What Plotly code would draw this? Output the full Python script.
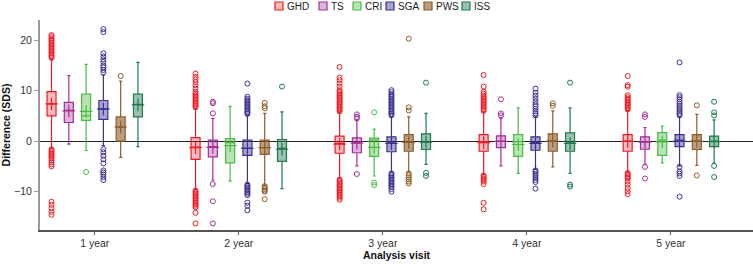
import plotly.graph_objects as go

visits = ["1 year", "2 year", "3 year", "4 year", "5 year"]
series = ["GHD", "TS", "CRI", "SGA", "PWS", "ISS"]

# per series (rows) x visit (columns)
q1 = [
    [5.0, -3.6, -2.4, -2.0, -2.0],
    [3.7, -3.1, -2.3, -1.3, -1.6],
    [4.1, -4.3, -3.0, -3.0, -2.8],
    [4.3, -2.8, -2.1, -1.8, -1.1],
    [0.0, -2.6, -2.0, -2.0, -1.65],
    [4.8, -4.0, -1.65, -2.0, -1.1],
]
median = [
    [7.4, -1.2, -0.45, -0.1, 0.0],
    [6.1, -1.1, -0.33, 0.0, -0.13],
    [5.0, -0.3, 0.2, -0.1, 0.2],
    [6.3, -1.45, -0.33, -0.3, 0.2],
    [2.8, -1.3, -0.13, 0.0, 0.0],
    [7.3, -1.45, -0.13, -0.33, 0.0],
]
q3 = [
    [9.8, 0.7, 1.0, 1.3, 1.3],
    [7.7, 0.2, 0.66, 1.05, 0.86],
    [9.3, 0.5, 0.6, 1.3, 1.7],
    [8.05, 0.2, 0.86, 0.86, 1.3],
    [4.8, 0.2, 1.3, 1.45, 1.3],
    [9.3, 0.33, 1.45, 1.65, 1.0],
]
mean = [
    [7.4, -1.3, -0.6, -0.3, -0.05],
    [6.0, -1.25, -0.4, -0.05, -0.2],
    [5.9, -0.9, -1.25, -0.66, -0.13],
    [6.4, -1.45, -0.46, -0.46, 0.0],
    [2.8, -1.3, -0.26, 0.0, 0.0],
    [7.2, -1.6, -0.2, -0.46, -0.1],
]
upper_fence = [
    [16.2, 6.5, 5.8, 5.8, 6.1],
    [13.0, 4.5, 4.2, 4.5, 2.7],
    [15.2, 6.9, 2.4, 6.6, 3.0],
    [13.1, 5.1, 4.8, 4.8, 4.8],
    [11.9, 5.5, 4.8, 6.0, 5.3],
    [15.6, 5.8, 5.5, 6.6, 4.2],
]
lower_fence = [
    [-1.4, -9.6, -7.4, -6.6, -6.1],
    [-0.6, -7.7, -4.9, -4.9, -4.6],
    [-1.85, -7.9, -6.9, -6.4, -4.3],
    [-0.9, -8.4, -6.1, -5.6, -4.9],
    [-3.2, -8.7, -6.1, -5.1, -4.8],
    [-1.1, -9.4, -4.6, -6.4, -4.4],
]

outliers_GHD = [
    [16.5, 16.8, 17.1, 17.4, 17.7, 18.0, 18.3, 18.6, 18.9, 19.2, 19.5, 19.8, 20.1, 20.4, 20.8, 21.0,
     -1.6, -1.9, -2.2, -2.5, -2.8, -3.1, -3.4, -3.8, -4.2, -4.6, -5.0, -12.0, -12.6, -13.3, -14.0, -14.6],
    [6.7, 7.0, 7.3, 7.6, 7.9, 8.2, 8.5, 8.8, 9.1, 9.4, 9.8, 10.4, 11.1, 11.7, 12.2, 12.7, 13.4,
     -9.8, -10.1, -10.4, -10.7, -11.0, -11.3, -11.6, -11.9, -12.2, -12.5, -12.8, -13.1, -14.2, -16.3],
    [5.9, 6.2, 6.5, 6.8, 7.1, 7.4, 7.7, 8.0, 8.3, 8.6, 8.9, 9.2, 9.5, 9.8, 10.1, 10.8, 11.4, 12.1, 12.6, 14.7,
     -7.6, -7.9, -8.2, -8.5, -8.8, -9.1, -9.4, -9.7, -10.0, -10.3, -10.6, -10.9, -11.2, -11.6],
    [6.0, 6.3, 6.6, 6.9, 7.2, 7.5, 7.8, 8.1, 8.4, 8.7, 9.0, 9.4, 9.8, 10.8, 13.1,
     -6.8, -7.1, -7.4, -7.7, -8.0, -8.5, -12.2, -13.5],
    [6.3, 6.6, 6.9, 7.2, 7.5, 7.8, 8.1, 8.4, 8.7, 9.1, 10.8, 11.1, 12.9,
     -6.3, -6.6, -6.9, -7.2, -7.4, -8.0, -8.6, -9.3, -9.9, -10.5],
]
outliers_TS = [
    [],
    [7.8, 7.5, 5.5, -8.5, -11.9, -16.3],
    [5.3, 4.8, 4.5, -6.5],
    [8.3, 5.5, 5.1],
    [5.3, 4.8, -5.1, -7.4],
]
outliers_CRI = [
    [-6.1],
    [],
    [5.7, -8.2, -8.7],
    [],
    [],
]
outliers_SGA = [
    [13.6, 14.1, 14.6, 15.0, 15.7, 16.2, 16.8, 17.4, 21.6, 22.2,
     -1.6, -2.2, -2.9, -3.6, -4.4, -5.8, -6.2, -6.6, -7.1, -7.7],
    [5.4, 5.7, 6.0, 6.3, 6.6, 6.9, 7.2, 7.5, 7.8, 8.1, 8.4, 8.8, 11.4,
     -8.6, -8.9, -9.2, -9.5, -9.8, -10.1, -10.4, -10.7, -12.2, -12.8, -13.7],
    [5.1, 5.4, 5.7, 6.0, 6.3, 6.6, 6.9, 7.2, 7.5, 7.8, 8.1, 8.4, 8.7, 9.0, 9.3, 9.7, 10.1,
     -6.4, -6.7, -7.0, -7.3, -7.6, -7.9, -8.2, -8.5, -8.8, -9.1, -9.5, -10.0],
    [5.1, 5.5, 5.9, 6.4, 6.9, 7.3, 7.8, 8.4, 9.0, 9.6, 10.4,
     -5.8, -6.1, -6.5, -6.9, -7.3, -7.7, -8.1, -9.4],
    [5.1, 5.4, 5.8, 6.2, 6.6, 7.0, 7.4, 7.8, 8.3, 8.7, 9.1, 15.6,
     -5.1, -6.0, -6.4, -6.9, -11.0],
]
outliers_PWS = [
    [12.9],
    [7.6, 6.9, 6.5, -8.9, -9.2, -9.5, -9.8, -10.0, -11.5],
    [20.3, 6.7, 6.1, -6.4, -6.8, -7.2, -7.6, -8.0, -8.4],
    [7.5, 7.0],
    [7.1, -6.8],
]
outliers_ISS = [
    [],
    [10.8],
    [11.6, -6.3, -6.9],
    [11.6, -8.6, -9.0],
    [7.8, 5.7, 5.1, -4.9, -7.1],
]
outliers = [outliers_GHD, outliers_TS, outliers_CRI, outliers_SGA, outliers_PWS, outliers_ISS]

line_colors = ["#ec1c24", "#a42e97", "#4cbb44", "#3a3290", "#8c5b2a", "#1d7a4b"]
fill_colors = ["rgba(236,28,36,0.30)", "rgba(164,46,151,0.35)", "rgba(76,187,68,0.40)",
               "rgba(58,50,144,0.45)", "rgba(140,91,42,0.60)", "rgba(29,122,75,0.45)"]

# ---- layout constants ----
W, H = 753, 264
M_L, M_R, M_T, M_B = 40, 0, 20, 34
BOXGAP = 0.28
FONT = "Liberation Sans, Arial, sans-serif"
# legend: left pixel of each legend swatch, drawn above the plot area
LEGEND_SWATCH_PX = [275, 319, 353, 386, 424, 462]
LEGEND_CY_PX = 6
SWATCH = 8
LABEL_GAP = 3

fig = go.Figure()
for i, name in enumerate(series):
    # each sample = the outliers plus the median (inside the box, so never drawn as a point)
    samples = [list(outliers[i][j]) + [median[i][j]] for j in range(len(visits))]
    fig.add_trace(go.Box(
        name=name, x=visits, y=samples,
        q1=q1[i], median=median[i], q3=q3[i],
        lowerfence=lower_fence[i], upperfence=upper_fence[i],
        boxpoints="outliers", jitter=0, pointpos=0,
        marker=dict(symbol="circle-open", size=5, color=line_colors[i], line=dict(width=1, color=line_colors[i])),
        line=dict(color=line_colors[i], width=1.2),
        fillcolor=fill_colors[i],
        whiskerwidth=0.35,
        offsetgroup=name, alignmentgroup="a",
        hoverinfo="y", showlegend=False,
    ))
for i, name in enumerate(series):
    fig.add_trace(go.Scatter(
        x=visits, y=mean[i], mode="markers", showlegend=False,
        marker=dict(symbol="cross-thin-open", size=9, color=line_colors[i], line=dict(width=1.2, color=line_colors[i])),
        offsetgroup=name, alignmentgroup="a",
    ))

# compact legend (swatch + label) in the top margin
pw, ph = W - M_L - M_R, H - M_T - M_B
px2x = lambda p: (p - M_L) / pw
py2y = lambda p: (H - M_B - p) / ph
for i, name in enumerate(series):
    x0 = LEGEND_SWATCH_PX[i]
    fig.add_shape(type="rect", xref="paper", yref="paper",
                  x0=px2x(x0), x1=px2x(x0 + SWATCH),
                  y0=py2y(LEGEND_CY_PX + SWATCH / 2), y1=py2y(LEGEND_CY_PX - SWATCH / 2),
                  fillcolor=fill_colors[i], line=dict(color=line_colors[i], width=1.2))
    fig.add_annotation(xref="paper", yref="paper", x=px2x(x0 + SWATCH + LABEL_GAP), y=py2y(LEGEND_CY_PX),
                       text=name, showarrow=False, xanchor="left", yanchor="middle",
                       borderpad=0, font=dict(size=10, color="#222"))

fig.update_layout(
    width=W, height=H,
    margin=dict(l=M_L, r=M_R, t=M_T, b=M_B, autoexpand=False),
    paper_bgcolor="white", plot_bgcolor="white",
    boxmode="group", boxgap=BOXGAP, boxgroupgap=0.48,
    scattermode="group", scattergap=BOXGAP,
    font=dict(family=FONT, size=10, color="#222"),
    showlegend=False,
)
fig.update_xaxes(
    type="category", range=[-0.38, 4.57],
    showline=True, linecolor="#555", linewidth=1.5,
    ticks="outside", ticklen=3, tickcolor="#555",
    tickfont=dict(size=10.5, color="#333"),
    title=dict(text="<b>Analysis visit</b>", font=dict(size=10.5, color="#111"), standoff=2),
    showgrid=False, zeroline=False,
)
fig.update_yaxes(
    range=[-17.6, 24], tickvals=[-10, 0, 10, 20], ticktext=["\u221210", "0", "10", "20"],
    showline=True, linecolor="#999", linewidth=2,
    ticks="outside", ticklen=4, tickcolor="#999",
    tickfont=dict(size=10.5, color="#333"),
    title=dict(text="<b>Difference (SDS)</b>", font=dict(size=10.5, color="#111"), standoff=6),
    showgrid=False, zeroline=True, zerolinecolor="#222", zerolinewidth=1,
)

fig.write_html("out.html", config={"displayModeBar": False},
               post_script="document.body.style.margin='0';")
